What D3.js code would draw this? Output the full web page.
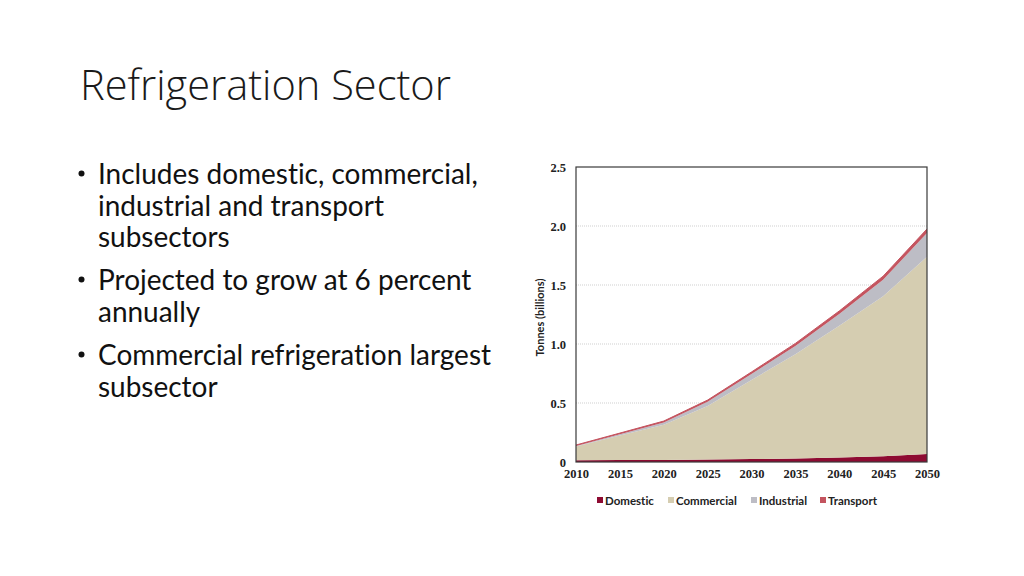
<!DOCTYPE html>
<html>
<head>
<meta charset="utf-8">
<script src="https://cdn.jsdelivr.net/npm/d3@7"></script>
<style>
  html, body { margin: 0; padding: 0; background: #fff; }
  svg { display: block; }
  text { font-variant-ligatures: none; font-feature-settings: "liga" 0, "clig" 0; }
</style>
</head>
<body>
<svg id="slide" width="1024" height="576"></svg>
<script>
// ---- Data ----
const years = [2010, 2015, 2020, 2025, 2030, 2035, 2040, 2045, 2050];
const domestic   = [0.015, 0.016, 0.018, 0.021, 0.025, 0.030, 0.038, 0.048, 0.068];
const commercial = [0.116, 0.209, 0.297, 0.454, 0.670, 0.883, 1.116, 1.357, 1.672];
const industrial = [0.005, 0.010, 0.020, 0.035, 0.050, 0.070, 0.100, 0.140, 0.200];
const transport  = [0.008, 0.010, 0.012, 0.015, 0.018, 0.022, 0.026, 0.030, 0.035];
const seriesNames = ["Domestic", "Commercial", "Industrial", "Transport"];
const seriesColors = ["#8e0b32", "#d5cdb1", "#bdbdc5", "#c4545f"];
const yTicks = [0, 0.5, 1.0, 1.5, 2.0, 2.5];
const xTicks = [2010, 2015, 2020, 2025, 2030, 2035, 2040, 2045, 2050];

const titleText = "Refrigeration Sector";
const bullets = [
  ["Includes domestic, commercial,", "industrial and transport", "subsectors"],
  ["Projected to grow at 6 percent", "annually"],
  ["Commercial refrigeration largest", "subsector"]
];

const svg = d3.select("#slide");

// ---- Title ----
const title = svg.append("text")
  .attr("x", 80).attr("y", 100)
  .attr("font-family", "'Open Sans', Lato, sans-serif")
  .attr("font-weight", 300)
  .attr("font-size", 40)
  .attr("fill", "#1a1a1a")
  .text(titleText);
{
  const w = title.node().getComputedTextLength();
  title.attr("font-size", 40 * 371 / w);
}

// ---- Bullets ----
const bulletBaselines = [[184, 216, 247], [290, 322], [365, 397]];
let bulletFont = 27;
bullets.forEach((lines, i) => {
  svg.append("circle")
    .attr("cx", 81.5).attr("cy", bulletBaselines[i][0] - 10.5)
    .attr("r", 3)
    .attr("fill", "#111");
  lines.forEach((ln, j) => {
    svg.append("text")
      .attr("class", "btxt")
      .attr("x", 98).attr("y", bulletBaselines[i][j])
      .attr("font-family", "Lato, 'Open Sans', sans-serif")
      .attr("font-size", bulletFont)
      .attr("fill", "#111")
      .text(ln);
  });
});
{
  const first = svg.selectAll(".btxt").filter(function(){ return d3.select(this).text() === bullets[0][0]; });
  const w = first.node().getComputedTextLength();
  svg.selectAll(".btxt").attr("font-size", bulletFont * 380 / w);
}

// ---- Chart ----
const plot = {left: 576, top: 167, right: 927, bottom: 462};
const x = d3.scaleLinear().domain([2010, 2050]).range([plot.left, plot.right]);
const y = d3.scaleLinear().domain([0, 2.5]).range([plot.bottom, plot.top]);

const table = years.map((yr, i) => ({
  year: yr,
  Domestic: domestic[i],
  Commercial: commercial[i],
  Industrial: industrial[i],
  Transport: transport[i]
}));

// gridlines
svg.append("g").selectAll("line")
  .data(yTicks.filter(t => t > 0 && t < 2.5))
  .join("line")
  .attr("x1", plot.left).attr("x2", plot.right)
  .attr("y1", d => y(d)).attr("y2", d => y(d))
  .attr("stroke", "#cfcfcf")
  .attr("stroke-width", 1)
  .attr("stroke-dasharray", "1,1");

const stack = d3.stack().keys(seriesNames);
const layers = stack(table);
const area = d3.area()
  .x(d => x(d.data.year))
  .y0(d => y(d[0]))
  .y1(d => y(d[1]));

svg.append("g").selectAll("path")
  .data(layers)
  .join("path")
  .attr("d", area)
  .attr("fill", (d, i) => seriesColors[i]);

svg.append("path")
  .datum(layers[3])
  .attr("d", d3.line().x(d => x(d.data.year)).y(d => y(d[1])))
  .attr("fill", "none")
  .attr("stroke", seriesColors[3])
  .attr("stroke-width", 1);

// frame
svg.append("rect")
  .attr("x", plot.left).attr("y", plot.top)
  .attr("width", plot.right - plot.left).attr("height", plot.bottom - plot.top)
  .attr("fill", "none").attr("stroke", "#3a3a3a").attr("stroke-width", 1.2);

// axes (labels only)
const yAxis = d3.axisLeft(y).tickValues(yTicks).tickSize(0).tickPadding(10)
  .tickFormat(d => d === 0 ? "0" : d3.format(".1f")(d));
const gy = svg.append("g").attr("transform", `translate(${plot.left},0)`).call(yAxis);
gy.select(".domain").remove();
gy.selectAll("text")
  .attr("font-family", "'Liberation Serif', 'DejaVu Serif', serif")
  .attr("font-weight", "bold").attr("font-size", 12.5).attr("fill", "#222");

const xAxis = d3.axisBottom(x).tickValues(xTicks).tickSize(0).tickPadding(7)
  .tickFormat(d3.format("d"));
const gx = svg.append("g").attr("transform", `translate(0,${plot.bottom})`).call(xAxis);
gx.select(".domain").remove();
gx.selectAll("text")
  .attr("font-family", "'Liberation Serif', 'DejaVu Serif', serif")
  .attr("font-weight", "bold").attr("font-size", 12.5).attr("fill", "#222");

// y-axis title
svg.append("text")
  .attr("transform", `translate(544,${(plot.top + plot.bottom) / 2 + 3}) rotate(-90)`)
  .attr("text-anchor", "middle")
  .attr("font-family", "Lato, 'Open Sans', sans-serif")
  .attr("font-weight", "bold").attr("font-size", 11).attr("fill", "#222")
  .text("Tonnes (billions)");

// legend
const legendX = [597, 668, 751, 820];
const lg = svg.append("g");
seriesNames.forEach((nm, i) => {
  lg.append("rect")
    .attr("x", legendX[i]).attr("y", 497)
    .attr("width", 6).attr("height", 6)
    .attr("fill", seriesColors[i]);
  lg.append("text")
    .attr("x", legendX[i] + 8).attr("y", 504.5)
    .attr("font-family", "Lato, 'Open Sans', sans-serif")
    .attr("font-weight", "bold").attr("font-size", 11.5).attr("fill", "#222")
    .text(nm);
});
</script>
</body>
</html>
